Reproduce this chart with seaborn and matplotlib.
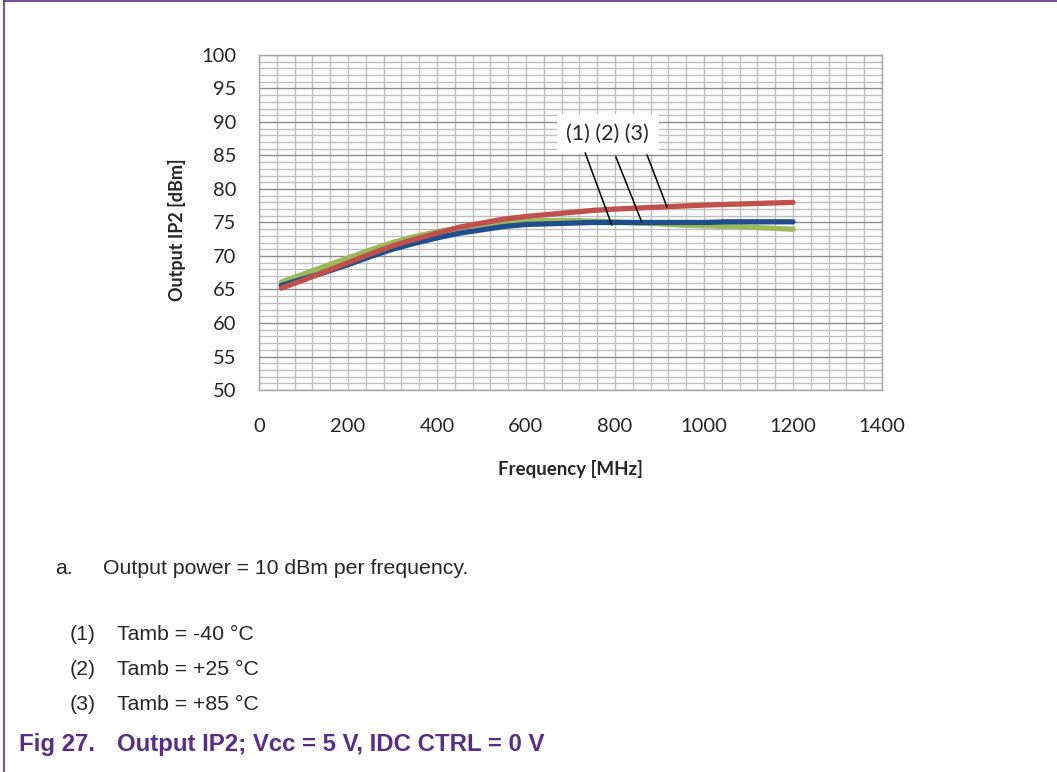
import pandas as pd
import seaborn as sns
import matplotlib.pyplot as plt
from matplotlib.ticker import MultipleLocator

# values (50 MHz steps)
freq_mhz = [50, 100, 150, 200, 250, 300, 350, 400, 450, 500, 550, 600,
            650, 700, 750, 800, 850, 900, 950, 1000, 1050, 1100, 1150, 1200]
ip2_m40 = [65.6, 66.6, 67.6, 68.7, 69.9, 71.0, 71.9, 72.7, 73.4, 73.9, 74.4, 74.7,
           74.8, 74.9, 75.0, 75.0, 75.0, 75.0, 75.0, 75.0, 75.1, 75.1, 75.1, 75.1]
ip2_p25 = [66.1, 67.3, 68.5, 69.7, 70.9, 72.0, 72.9, 73.6, 74.2, 74.7, 75.0, 75.2,
           75.3, 75.3, 75.2, 75.1, 74.9, 74.8, 74.6, 74.5, 74.4, 74.3, 74.15, 74.0]
ip2_p85 = [65.2, 66.4, 67.7, 69.0, 70.3, 71.5, 72.5, 73.4, 74.3, 74.9, 75.5, 75.9,
           76.2, 76.5, 76.8, 77.0, 77.15, 77.3, 77.45, 77.6, 77.7, 77.8, 77.9, 78.0]
series_names = ['(1)', '(2)', '(3)']
series_colors = {'(1)': '#1F4E8C', '(2)': '#9BBB59', '(3)': '#C0504D'}

x_ticks = [0, 200, 400, 600, 800, 1000, 1200, 1400]
y_ticks = [50, 55, 60, 65, 70, 75, 80, 85, 90, 95, 100]

notes = ['Tamb = -40 °C', 'Tamb = +25 °C', 'Tamb = +85 °C']

PURPLE = '#5B2C86'


def build_frame():
    rows = []
    for name, vals in zip(series_names, [ip2_m40, ip2_p25, ip2_p85]):
        for f, v in zip(freq_mhz, vals):
            rows.append({'Frequency': f, 'IP2': v, 'curve': name})
    return pd.DataFrame(rows)


def main():
    sns.set_style('white')
    plt.rcParams['font.family'] = ['Lato', 'DejaVu Sans']

    fig = plt.figure(figsize=(10.57, 7.72), dpi=100)
    ax = fig.add_axes([0.245, 0.4948, 0.5894, 0.434])

    df = build_frame()
    # green below blue, red on top
    for name in ['(2)', '(1)', '(3)']:
        sns.lineplot(data=df[df['curve'] == name], x='Frequency', y='IP2',
                     color=series_colors[name], linewidth=3.8, ax=ax,
                     solid_capstyle='round', solid_joinstyle='round', zorder=3)

    ax.set_xlim(0, 1400)
    ax.set_ylim(50, 100)
    ax.set_xticks(x_ticks)
    ax.set_yticks(y_ticks)
    ax.xaxis.set_minor_locator(MultipleLocator(40))
    ax.yaxis.set_minor_locator(MultipleLocator(1))
    ax.grid(which='minor', axis='both', color='#BFBFBF', linewidth=1.0, zorder=0)
    ax.grid(which='major', axis='x', color='#BFBFBF', linewidth=1.0, zorder=0)
    ax.grid(which='major', axis='y', color='#8C8C8C', linewidth=1.0, zorder=0)
    ax.set_axisbelow(True)
    for sp in ax.spines.values():
        sp.set_color('#A6A6A6')
        sp.set_linewidth(1.0)
    ax.tick_params(which='both', length=0)
    ax.tick_params(axis='y', pad=16, labelsize=14.5)
    ax.tick_params(axis='x', pad=20, labelsize=14.5)

    ax.set_xlabel('Frequency [MHz]', fontsize=13.5, fontweight='bold', labelpad=18)
    ax.set_ylabel('Output IP2 [dBm]', fontsize=13, fontweight='bold')
    ax.yaxis.set_label_coords(-0.117, 0.48)

    # callout box with leader lines
    ax.text(784, 88.2, '(1) (2) (3)', fontsize=15.5, ha='center', va='center',
            bbox=dict(facecolor='white', edgecolor='none', pad=7), zorder=5)
    leaders = [((733, 85.4), (793, 74.6)),
               ((802, 84.8), (860, 75.1)),
               ((872, 85.1), (917, 77.3))]
    for (x0, y0), (x1, y1) in leaders:
        ax.plot([x0, x1], [y0, y1], color='black', linewidth=1.1, zorder=6)

    # frame lines of the page
    fig.add_artist(plt.Line2D([0.0038, 0.0038], [0, 1], color=PURPLE, linewidth=1.2))
    fig.add_artist(plt.Line2D([0.0038, 1], [0.9985, 0.9985], color=PURPLE, linewidth=1.2))

    arial = ['Liberation Sans', 'DejaVu Sans']
    H = 772.0
    W = 1057.0
    fig.text(55 / W, 1 - 568 / H, 'a.', fontsize=15.3, family=arial, va='center')
    fig.text(103 / W, 1 - 568 / H, 'Output power = 10 dBm per frequency.',
             fontsize=15.3, family=arial, va='center')
    for i, (name, note) in enumerate(zip(series_names, notes)):
        yy = 1 - (634 + 35.5 * i) / H
        fig.text(70 / W, yy, name, fontsize=15.3, family=arial, va='center')
        fig.text(117 / W, yy, note, fontsize=15.3, family=arial, va='center')

    fig.text(19 / W, 1 - 744 / H, 'Fig 27.', fontsize=17.3, family=arial,
             fontweight='bold', color=PURPLE, va='center')
    fig.text(117 / W, 1 - 744 / H, 'Output IP2; Vcc = 5 V, IDC CTRL = 0 V',
             fontsize=17.3, family=arial, fontweight='bold', color=PURPLE, va='center')

    fig.savefig('out.png', dpi=100, facecolor='white')


if __name__ == "__main__":
    main()
